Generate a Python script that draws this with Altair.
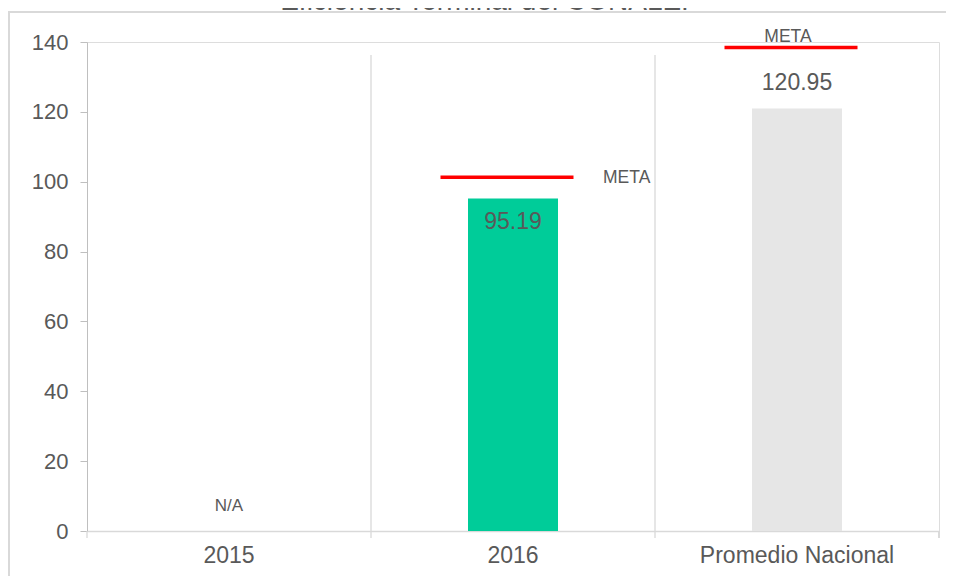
import altair as alt
import pandas as pd

# ---- data ----
categories = ["2015", "2016", "Promedio Nacional"]
values = [None, 95.19, 120.95]
metas = [None, 101.3, 138.4]
value_labels = ["N/A", "95.19", "120.95"]
bar_colors = ["#FFFFFF", "#00CC99", "#E6E6E6"]
y_ticks = [0, 20, 40, 60, 80, 100, 120, 140]
title_text = "Eficiencia Terminal del CONALEP"
meta_text = "META"

df = pd.DataFrame({
    "category": categories,
    "value": values,
    "meta": metas,
    "label": value_labels,
})

GRAY = "#595959"
FONT = "Liberation Sans"

x_axis = alt.Axis(title=None, labelAngle=0, ticks=False, grid=False,
                  domainColor="#D9D9D9", domainWidth=1.3, labelFontSize=23,
                  labelColor=GRAY, labelPadding=13, labelFont=FONT, labelLimit=0)
y_axis = alt.Axis(title=None, values=y_ticks, grid=False, domainColor="#BFBFBF",
                  tickColor="#BFBFBF", tickSize=7, labelFontSize=22,
                  labelColor=GRAY, labelPadding=12, labelFont=FONT)
x_scale = alt.Scale(paddingInner=0, paddingOuter=0)
y_scale = alt.Scale(domain=[0, 140], nice=False)

base = alt.Chart(df)

bars = base.mark_bar(size=90).encode(
    x=alt.X("category:N", sort=categories, scale=x_scale, axis=x_axis),
    y=alt.Y("value:Q", scale=y_scale, axis=y_axis),
    color=alt.Color("category:N", sort=categories,
                    scale=alt.Scale(domain=categories, range=bar_colors), legend=None),
)

# vertical gridlines at category boundaries
vgrid = base.mark_rule(color="#D9D9D9", strokeWidth=1.3).encode(
    x=alt.X("category:N", sort=categories, bandPosition=0),
    y=alt.value(13),
    y2=alt.value(489),
).transform_filter(alt.datum.category != "2015")

# x axis tick marks at boundaries
xticks = base.mark_rule(color="#D9D9D9", strokeWidth=1.3).encode(
    x=alt.X("category:N", sort=categories, bandPosition=0),
    y=alt.value(489),
    y2=alt.value(496),
)
xtick_end = base.mark_rule(color="#D9D9D9", strokeWidth=1.3).encode(
    x=alt.value(852), y=alt.value(489), y2=alt.value(496),
)

# target (META) markers
meta_marks = base.mark_tick(color="#FF0000", thickness=3.5, size=133, xOffset=-6,
                            opacity=1).encode(
    x=alt.X("category:N", sort=categories),
    y=alt.Y("meta:Q", scale=y_scale),
)

meta_2016 = base.mark_text(align="left", baseline="middle", dx=90, dy=1,
                           fontSize=17.5, color=GRAY, font=FONT).encode(
    x=alt.X("category:N", sort=categories),
    y=alt.Y("meta:Q", scale=y_scale),
    text=alt.value(meta_text),
).transform_filter(alt.datum.category == "2016")

meta_prom = base.mark_text(align="center", baseline="middle", dx=-9, dy=-11,
                           fontSize=17.5, color=GRAY, font=FONT).encode(
    x=alt.X("category:N", sort=categories),
    y=alt.Y("meta:Q", scale=y_scale),
    text=alt.value(meta_text),
).transform_filter(alt.datum.category == "Promedio Nacional")

lbl_2016 = base.mark_text(align="center", baseline="middle", dy=23,
                          fontSize=23, color=GRAY, font=FONT).encode(
    x=alt.X("category:N", sort=categories),
    y=alt.Y("value:Q", scale=y_scale),
    text="label:N",
).transform_filter(alt.datum.category == "2016")

lbl_prom = base.mark_text(align="center", baseline="middle", dy=-26,
                          fontSize=23, color=GRAY, font=FONT).encode(
    x=alt.X("category:N", sort=categories),
    y=alt.Y("value:Q", scale=y_scale),
    text="label:N",
).transform_filter(alt.datum.category == "Promedio Nacional")

lbl_na = base.mark_text(align="center", baseline="middle", dy=-25,
                        fontSize=17, color=GRAY, font=FONT).encode(
    x=alt.X("category:N", sort=categories),
    y=alt.YDatum(0, scale=y_scale),
    text="label:N",
).transform_filter(alt.datum.category == "2015")

# frame lines of the original chart area and its (cropped) title
frame_top = base.mark_rule(color="#D9D9D9", strokeWidth=1.5).encode(
    x=alt.value(-79), x2=alt.value(859), y=alt.value(-30),
)
frame_left = base.mark_rule(color="#D9D9D9", strokeWidth=1.5).encode(
    x=alt.value(-78), y=alt.value(-30), y2=alt.value(534),
)
title = base.mark_text(align="center", baseline="alphabetic", fontSize=28,
                       color=GRAY, font=FONT).encode(
    x=alt.value(403), y=alt.value(-32), text=alt.value(title_text),
).transform_filter(alt.datum.category == "2015")

chart = alt.layer(
    bars, vgrid, xticks, xtick_end, meta_marks, meta_2016, meta_prom,
    lbl_2016, lbl_prom, lbl_na, frame_top, frame_left, title,
).properties(
    width=852,
    height=489,
    autosize=alt.AutoSizeParams(type="none"),
    padding={"left": 79, "top": 34, "right": 7, "bottom": 45},
).configure_view(stroke=None).configure(font=FONT)

chart.save("out.html", embed_options={"renderer": "svg", "actions": False})
